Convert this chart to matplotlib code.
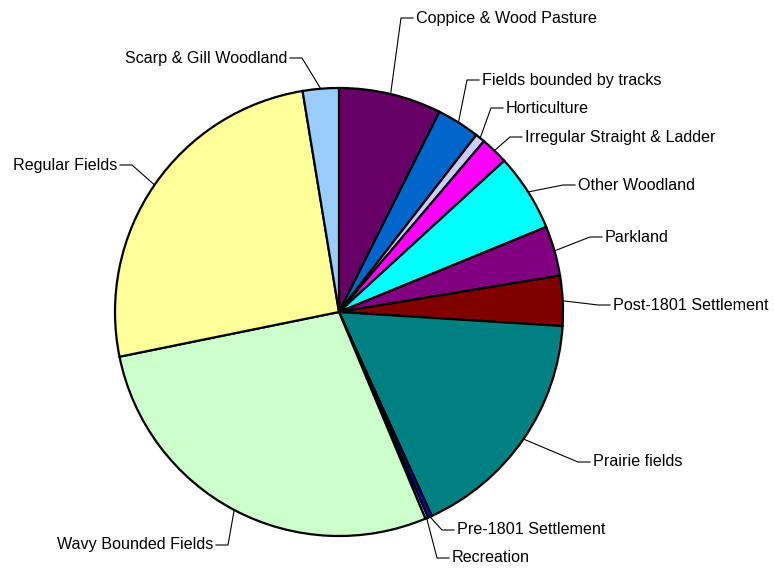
import numpy as np
import matplotlib
matplotlib.use("Agg")
import matplotlib.pyplot as plt

plt.rcParams['font.family'] = ['Liberation Sans', 'DejaVu Sans']

# данные: доли категорий (%), по часовой стрелке от 12 часов
labels = ["Coppice & Wood Pasture", "Fields bounded by tracks", "Horticulture",
          "Irregular Straight & Ladder", "Other Woodland", "Parkland",
          "Post-1801 Settlement", "Prairie fields", "Pre-1801 Settlement",
          "Recreation", "Wavy Bounded Fields", "Regular Fields",
          "Scarp & Gill Woodland"]
values = [7.4, 3.1, 0.7, 2.0, 5.6, 3.6, 3.6, 17.2, 0.3, 0.2, 28.1, 25.6, 2.6]
colors = ["#660066", "#0066CC", "#CCCCFF", "#FF00FF", "#00FFFF", "#800080",
          "#800000", "#008080", "#0000FF", "#FFFFFF", "#CCFFCC", "#FFFF99",
          "#99CCFF"]

# положение подписей: (x излома, y, выравнивание) в пикселях картинки
label_pos = [(401, 18, "left"), (467, 80, "left"), (491, 108, "left"),
             (510, 137, "left"), (563, 185, "left"), (590, 237, "left"),
             (598, 305, "left"), (578, 462, "left"), (442, 530, "left"),
             (437, 558, "left"), (228, 545, "right"), (132, 165, "right"),
             (302, 58, "right")]

W, H = 775, 569
fig = plt.figure(figsize=(W / 100, H / 100), dpi=100)
ax = fig.add_axes([0, 0, 1, 1])

cx, cy, r = 339, H - 312, 224
wedges, _ = ax.pie(values, colors=colors, startangle=90, counterclock=False,
                   center=(cx, cy), radius=r, frame=True,
                   wedgeprops=dict(edgecolor="black", linewidth=1.6))
ax.set_xlim(0, W)
ax.set_ylim(0, H)
ax.set_aspect("equal")
ax.axis("off")

for w, lab, (ex, ey, ha) in zip(wedges, labels, label_pos):
    mid = np.deg2rad((w.theta1 + w.theta2) / 2)
    px, py = cx + r * np.cos(mid), cy + r * np.sin(mid)
    ey = H - ey
    dx = 12 if ha == "left" else -12
    ax.plot([px, ex, ex + dx], [py, ey, ey], color="black", lw=0.8)
    ax.text(ex + dx + (3 if ha == "left" else -3), ey, lab, ha=ha,
            va="center", fontsize=11.6)

fig.savefig("out.png", dpi=100)
